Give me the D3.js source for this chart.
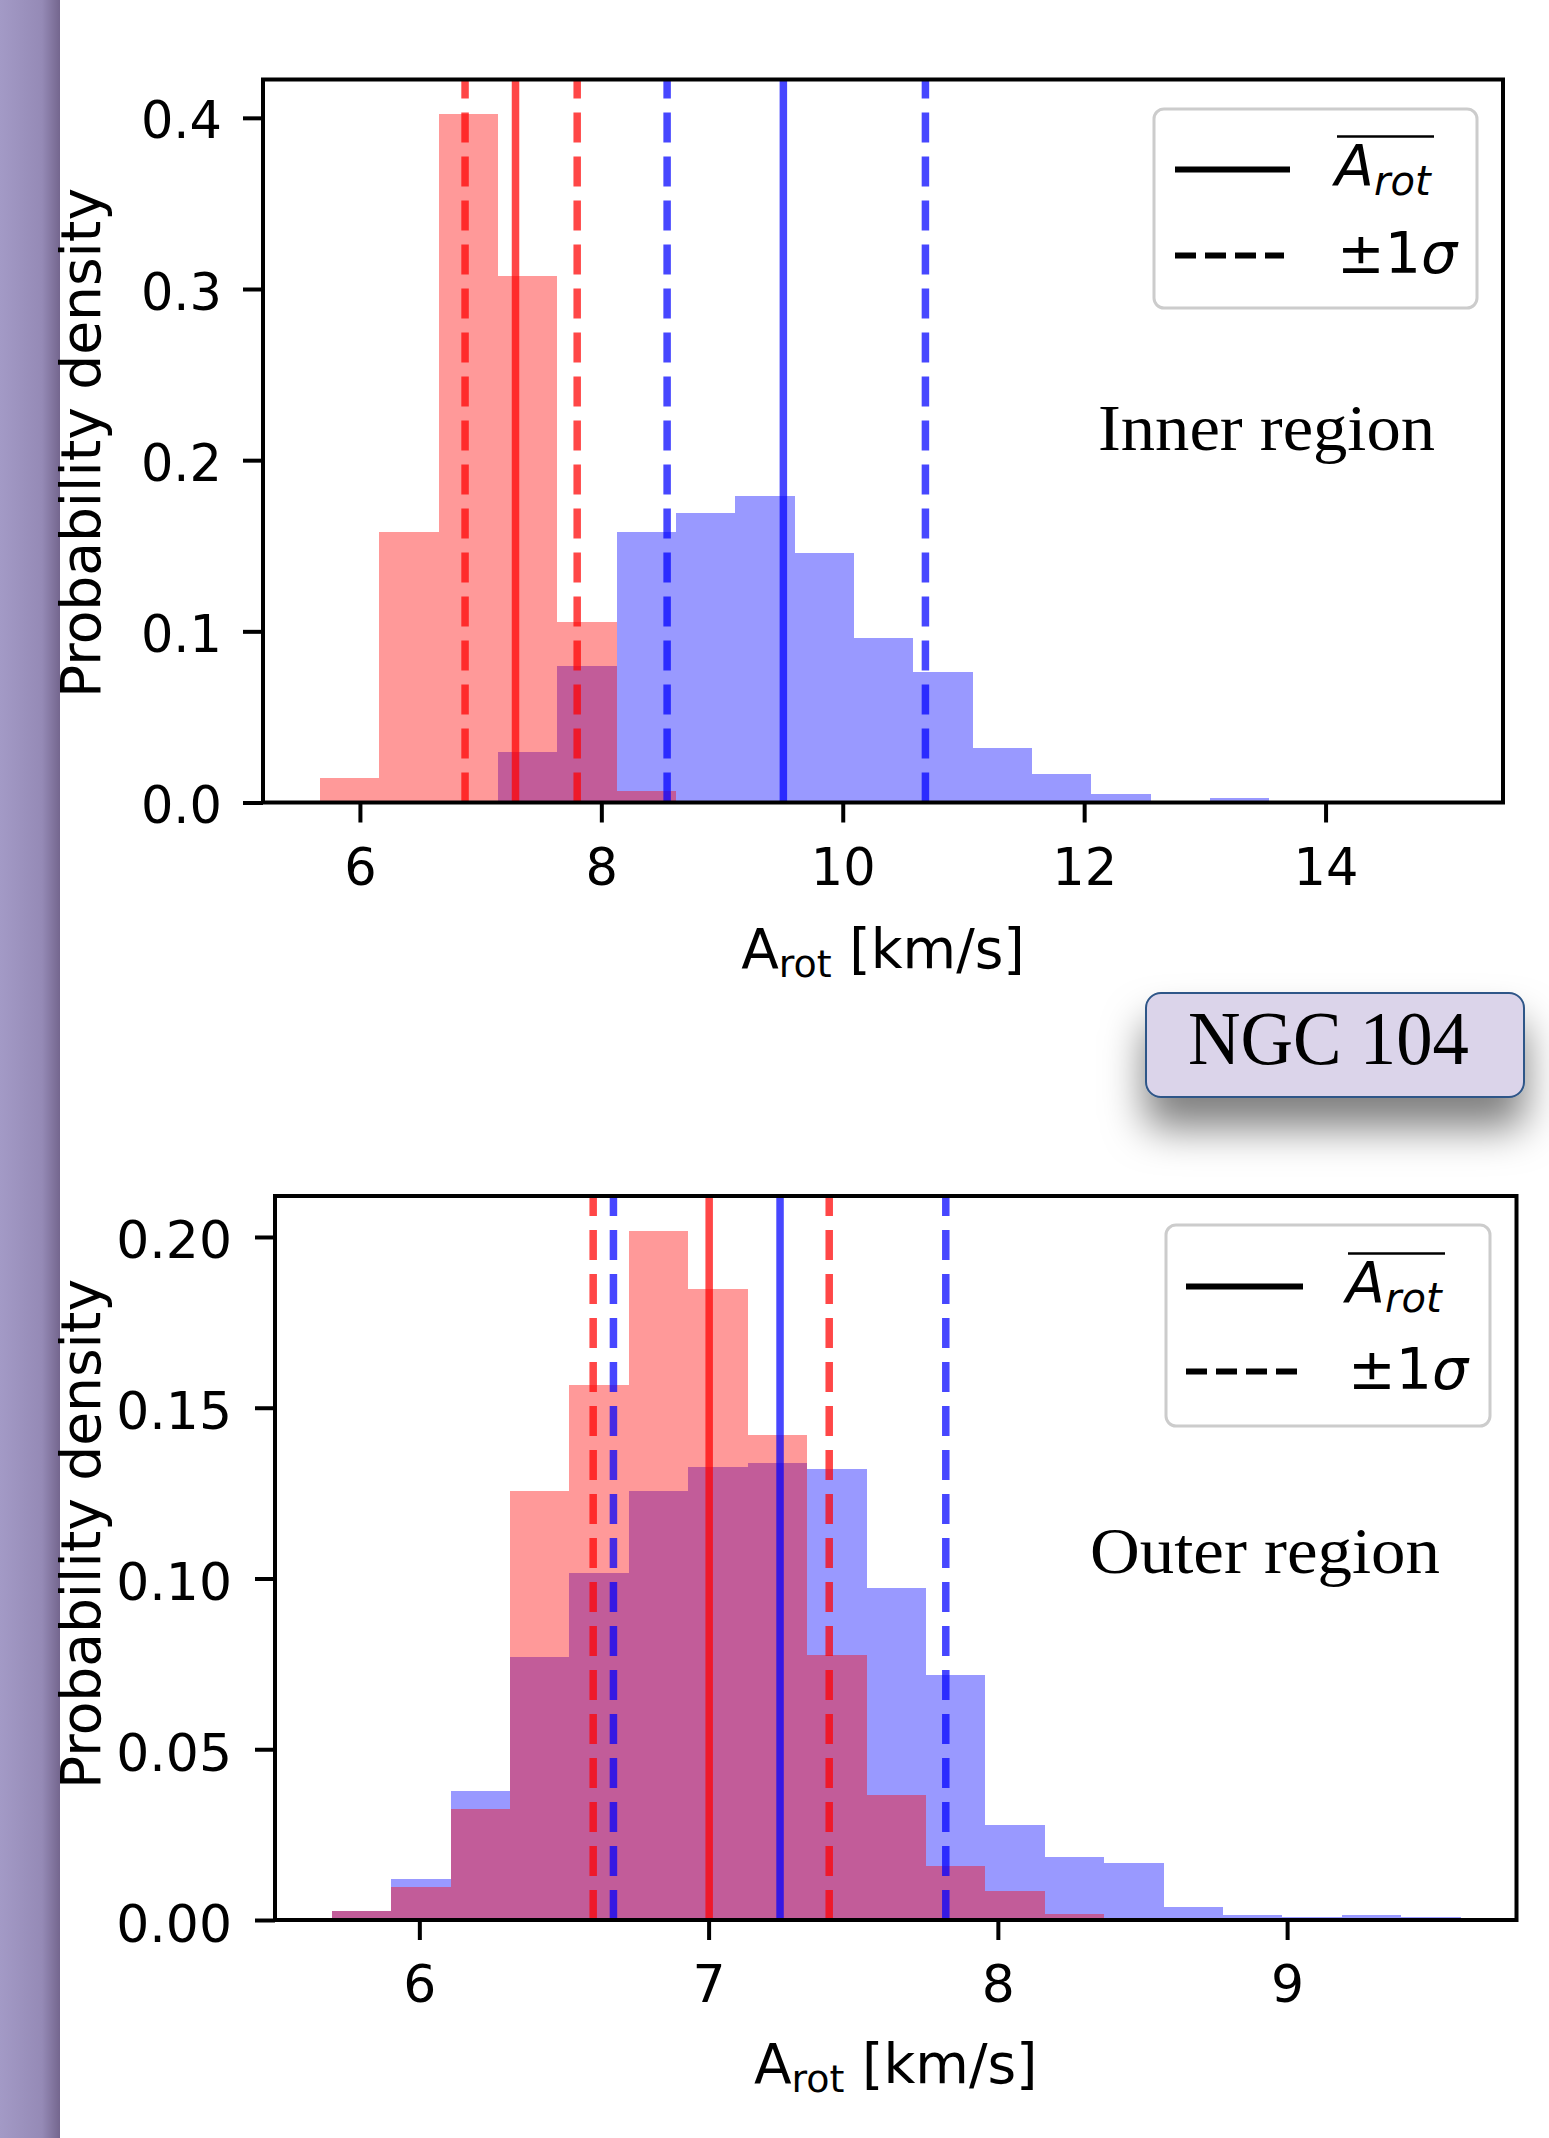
<!DOCTYPE html>
<html lang="en">
<head>
    <meta charset="utf-8" />
    <title>NGC 104 - A_rot</title>
    <script src="https://cdn.jsdelivr.net/npm/d3@7"></script>
    <style>
        body { margin: 0; background: #fff; }
        svg { display: block; }
        text.lbl { font-family: 'DejaVu Sans', sans-serif; fill: #000; }
        text.serif { font-family: 'Liberation Serif', 'DejaVu Serif', serif; fill: #000; }
    </style>
</head>
<body>
<svg id="vis" width="1549" height="2138"></svg>
<script>
    // ---- inner region (19 shared bins) ----
    var innerEdges = [5.668, 6.160, 6.651, 7.143, 7.635, 8.127, 8.618, 9.110, 9.602, 10.093,
                      10.585, 11.077, 11.568, 12.060, 12.552, 13.044, 13.535, 14.027, 14.519, 15.010];
    var innerRed  = [0.0143, 0.158, 0.402, 0.3076, 0.1054, 0.007, 0.0008, 0, 0, 0, 0, 0, 0, 0, 0, 0, 0, 0, 0];
    var innerBlue = [0, 0, 0, 0.0297, 0.0797, 0.158, 0.169, 0.179, 0.146, 0.096, 0.076, 0.032, 0.0166, 0.005, 0, 0.0027, 0, 0, 0];
    var innerRedStats  = [6.871, 7.289, 7.800];   // -1sigma, mean, +1sigma
    var innerBlueStats = [8.545, 9.508, 10.685];
    var innerXTicks = [6, 8, 10, 12, 14];
    var innerYTicks = [0, 0.1, 0.2, 0.3, 0.4];

    // ---- outer region ----
    var outerEdges = [5.697, 5.902, 6.108, 6.313, 6.519, 6.724, 6.929, 7.135, 7.340, 7.546,
                      7.751, 7.956, 8.162, 8.367, 8.573, 8.778, 8.983, 9.189, 9.394, 9.600];
    var outerRed  = [0.0027, 0.0096, 0.0325, 0.1256, 0.1566, 0.2018, 0.1849, 0.142, 0.0776, 0.0367,
                     0.0157, 0.0084, 0.0018, 0.0004, 0, 0, 0, 0, 0];
    var outerBlue = [0.0027, 0.012, 0.0379, 0.0771, 0.1015, 0.1256, 0.1327, 0.1339, 0.1321, 0.0971,
                     0.0717, 0.0279, 0.0184, 0.0167, 0.0039, 0.0016, 0.001, 0.0014, 0.001];
    var outerRedStats  = [6.601, 7.002, 7.417];
    var outerBlueStats = [6.671, 7.247, 7.820];
    var outerXTicks = [6, 7, 8, 9];
    var outerYTicks = [0, 0.05, 0.10, 0.15, 0.20];

    var svg = d3.select("#vis");
    var defs = svg.append("defs");

    var grad = defs.append("linearGradient").attr("id", "side").attr("x1", 0).attr("x2", 1).attr("y1", 0).attr("y2", 0);
    grad.append("stop").attr("offset", 0).attr("stop-color", "#a39ac6");
    grad.append("stop").attr("offset", 0.7).attr("stop-color", "#958ab6");
    grad.append("stop").attr("offset", 1).attr("stop-color", "#74668e");

    defs.append("filter").attr("id", "shadow").attr("x", "-30%").attr("y", "-50%").attr("width", "160%").attr("height", "250%")
        .append("feDropShadow").attr("dx", 0).attr("dy", 30).attr("stdDeviation", 20)
        .attr("flood-color", "#000").attr("flood-opacity", 0.5);

    svg.append("rect").attr("width", 1549).attr("height", 2138).attr("fill", "#fff");
    svg.append("rect").attr("x", 0).attr("y", 0).attr("width", 60).attr("height", 2138).attr("fill", "url(#side)");

    function panel(p) {
        var g = svg.append("g");
        var x = d3.scaleLinear().domain(p.xDomain).range([p.left, p.right]);
        var y = d3.scaleLinear().domain(p.yDomain).range([p.bottom, p.top]);

        var clipId = "clip" + p.id;
        defs.append("clipPath").attr("id", clipId).append("rect")
            .attr("x", p.left).attr("y", p.top).attr("width", p.right - p.left).attr("height", p.bottom - p.top);

        var bins = p.edges.slice(0, -1).map(function (e, i) {
            return { x0: e, x1: p.edges[i + 1], red: p.red[i], blue: p.blue[i] };
        });

        var plot = g.append("g").attr("clip-path", "url(#" + clipId + ")");
        [["blue", "#0000ff"], ["red", "#ff0000"]].forEach(function (s) {
            plot.append("g").selectAll("rect").data(bins.filter(function (d) { return d[s[0]] > 0; }))
                .join("rect")
                .attr("x", function (d) { return x(d.x0); })
                .attr("width", function (d) { return x(d.x1) - x(d.x0); })
                .attr("y", function (d) { return y(d[s[0]]); })
                .attr("height", function (d) { return y(0) - y(d[s[0]]); })
                .attr("fill", s[1]).attr("fill-opacity", 0.4)
                .attr("shape-rendering", "crispEdges");
        });

        var lines = [];
        p.redStats.forEach(function (v, i) { lines.push({ v: v, c: "#ff0000", dash: i != 1 }); });
        p.blueStats.forEach(function (v, i) { lines.push({ v: v, c: "#0000ff", dash: i != 1 }); });
        plot.append("g").selectAll("line").data(lines).join("line")
            .attr("x1", function (d) { return x(d.v); }).attr("x2", function (d) { return x(d.v); })
            .attr("y1", p.bottom).attr("y2", p.top)
            .attr("stroke", function (d) { return d.c; }).attr("stroke-opacity", 0.72)
            .attr("stroke-width", 7.5)
            .attr("stroke-dasharray", function (d) { return d.dash ? "30,14" : null; });

        // axes
        var xa = g.append("g").attr("transform", "translate(0," + p.bottom + ")")
            .call(d3.axisBottom(x).tickValues(p.xTicks).tickSize(20).tickFormat(d3.format("d")));
        var ya = g.append("g").attr("transform", "translate(" + p.left + ",0)")
            .call(d3.axisLeft(y).tickValues(p.yTicks).tickSize(20).tickFormat(d3.format(p.yFmt)));
        [xa, ya].forEach(function (a) {
            a.attr("font-family", "'DejaVu Sans', sans-serif").attr("font-size", p.tickFont);
            a.select(".domain").remove();
            a.selectAll(".tick line").attr("stroke", "#000").attr("stroke-width", 4);
            a.selectAll(".tick text").attr("fill", "#000");
        });
        xa.selectAll(".tick text").attr("y", 82).attr("dy", null);
        ya.selectAll(".tick text").attr("x", -p.yLabelGap).attr("dy", p.yLabelDy);

        g.append("rect").attr("x", p.left).attr("y", p.top)
            .attr("width", p.right - p.left).attr("height", p.bottom - p.top)
            .attr("fill", "none").attr("stroke", "#000").attr("stroke-width", 4);

        // x label
        var xl = g.append("text").attr("class", "lbl").attr("text-anchor", "middle")
            .attr("x", (p.left + p.right) / 2).attr("y", p.bottom + p.xLabelOff).attr("font-size", 55);
        xl.append("tspan").text("A");
        xl.append("tspan").attr("font-size", 38).attr("dy", 9).text("rot");
        xl.append("tspan").attr("dy", -9).text(" [km/s]");

        // y label
        g.append("text").attr("class", "lbl").attr("text-anchor", "middle").attr("font-size", 55)
            .attr("transform", "translate(100," + p.yLabelY + ") rotate(-90)")
            .text("Probability density");

        // legend
        var L = p.legend;
        g.append("rect").attr("x", L.x0).attr("y", L.y0).attr("width", L.x1 - L.x0).attr("height", L.y1 - L.y0)
            .attr("rx", 10).attr("fill", "#fff").attr("fill-opacity", 0.8)
            .attr("stroke", "#cccccc").attr("stroke-width", 3);
        g.append("line").attr("x1", L.lx0).attr("x2", L.lx1).attr("y1", L.ySolid).attr("y2", L.ySolid)
            .attr("stroke", "#000").attr("stroke-width", 6);
        g.append("line").attr("x1", L.lx0).attr("x2", L.lx1 - 6).attr("y1", L.yDash).attr("y2", L.yDash)
            .attr("stroke", "#000").attr("stroke-width", 6).attr("stroke-dasharray", "21,9");
        var t1 = g.append("text").attr("class", "lbl").attr("x", L.tx).attr("y", L.ySolid + 16)
            .attr("font-size", 57).attr("font-style", "italic");
        t1.append("tspan").text("A");
        t1.append("tspan").attr("font-size", 40).attr("dy", 9).text("rot");
        g.append("line").attr("x1", L.tx + 2).attr("x2", L.tx + 99)
            .attr("y1", L.ySolid - 33).attr("y2", L.ySolid - 33)
            .attr("stroke", "#000").attr("stroke-width", 2.5);
        var t2 = g.append("text").attr("class", "lbl").attr("x", L.tx + 2).attr("y", L.yDash + 17).attr("font-size", 57);
        t2.append("tspan").text("\u00b11");
        t2.append("tspan").attr("font-style", "italic").text("\u03c3");

        // region label
        g.append("text").attr("class", "serif").attr("x", p.region.x).attr("y", p.region.y)
            .attr("font-size", 66).attr("textLength", p.region.w).attr("lengthAdjust", "spacingAndGlyphs")
            .text(p.region.text);
    }

    panel({
        id: "in", edges: innerEdges, red: innerRed, blue: innerBlue,
        redStats: innerRedStats, blueStats: innerBlueStats,
        xTicks: innerXTicks, yTicks: innerYTicks, yFmt: ".1f",
        xDomain: [5.197, 15.47], yDomain: [0, 0.4224],
        left: 263, right: 1503, top: 79.5, bottom: 802.5,
        tickFont: 51, yLabelGap: 41, yLabelDy: 20, xLabelOff: 165, yLabelY: 443,
        legend: { x0: 1154, x1: 1477, y0: 109, y1: 308, lx0: 1175, lx1: 1290, ySolid: 169.5, yDash: 255.5, tx: 1335 },
        region: { text: "Inner region", x: 1098, y: 450, w: 337 }
    });

    panel({
        id: "out", edges: outerEdges, red: outerRed, blue: outerBlue,
        redStats: outerRedStats, blueStats: outerBlueStats,
        xTicks: outerXTicks, yTicks: outerYTicks, yFmt: ".2f",
        xDomain: [5.501, 9.793], yDomain: [0, 0.212],
        left: 275, right: 1516.5, top: 1196, bottom: 1920,
        tickFont: 52, yLabelGap: 43, yLabelDy: 21, xLabelOff: 163, yLabelY: 1534,
        legend: { x0: 1166, x1: 1490, y0: 1225, y1: 1426, lx0: 1186, lx1: 1303, ySolid: 1286.5, yDash: 1371.5, tx: 1346 },
        region: { text: "Outer region", x: 1090, y: 1573, w: 350 }
    });

    // NGC 104 badge
    var badge = svg.append("g");
    badge.append("rect").attr("x", 1146).attr("y", 993).attr("width", 378).attr("height", 104)
        .attr("rx", 15).attr("fill", "#dbd4ea").attr("stroke", "#2f5688").attr("stroke-width", 2)
        .attr("filter", "url(#shadow)");
    badge.append("text").attr("class", "serif").attr("x", 1328.5).attr("y", 1064)
        .attr("text-anchor", "middle").attr("font-size", 76)
        .attr("textLength", 281).attr("lengthAdjust", "spacingAndGlyphs").text("NGC 104");
</script>
</body>
</html>
